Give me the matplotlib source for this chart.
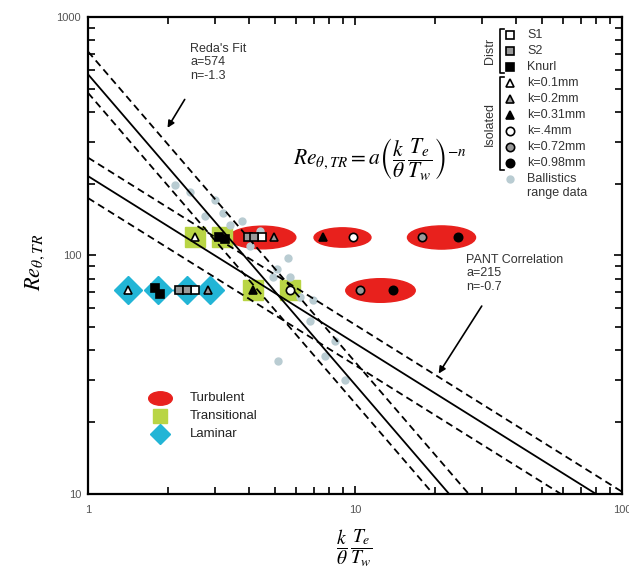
import numpy as np
import matplotlib.pyplot as plt
from matplotlib.path import Path
from matplotlib.transforms import Affine2D
from matplotlib.ticker import NullFormatter

plt.rcParams['font.family'] = ['Liberation Sans', 'DejaVu Sans']
plt.rcParams['mathtext.fontset'] = 'stix'

# correlations  Re = a * x**n  (solid fit, dashed band)
reda_a, reda_n, reda_band = 574, -1.3, [715, 480]
pant_a, pant_n, pant_band = 215, -0.7, [257, 174]

# regime backgrounds
turb_x = [4.5, 8.9, 21.0, 12.4]
turb_y = [120, 120, 120, 72]
turb_w = [48, 41, 49, 50]
trans_x = [2.52, 3.18, 4.15, 5.7]
trans_y = [120, 120, 72, 72]
lam_x = [1.41, 1.83, 2.35, 2.87]
lam_y = [72, 72, 72, 72]

# roughness samples
sample_names = ['S1', 'S2', 'Knurl', 'k=0.1mm', 'k=0.2mm', 'k=0.31mm',
                'k=.4mm', 'k=0.72mm', 'k=0.98mm']
sample_marker = ['s', 's', 's', '^', '^', '^', 'o', 'o', 'o']
sample_face = ['white', '#9a9a9a', 'black'] * 3
sample_x = [[4.48, 2.52], [3.97, 4.2, 2.19, 2.35], [3.1, 3.25, 1.78, 1.86],
            [2.52, 1.41], [4.95, 2.81], [7.6, 4.15], [9.8, 5.7],
            [17.8, 10.4], [24.3, 13.9]]
sample_y = [[120, 72], [120, 120, 72, 72], [120, 117, 73, 69],
            [120, 72], [120, 72], [120, 72], [120, 72],
            [120, 72], [120, 72]]

# ballistics range data
ball_x = [2.12, 2.41, 2.99, 3.2, 3.77, 3.4, 5.61, 5.1, 5.71, 6.96, 6.22,
          4.93, 5.15, 6.78, 8.42, 9.18, 7.7, 4.04, 4.4, 2.74]
ball_y = [197, 184, 170, 150, 140, 134, 98, 88, 81, 65, 67,
          81, 36, 53, 44, 30, 38, 110, 127, 147]

red, green, cyan, ballc = '#e8211d', '#b9d545', '#22b5d6', '#b9ccd2'
txtc = '#333333'

ellipse = Path.unit_circle().transformed(Affine2D().scale(1, 0.34))
key_ellipse = Path.unit_circle().transformed(Affine2D().scale(1, 0.57))

fig = plt.figure(figsize=(6.29, 5.8), dpi=100)
ax = fig.add_axes([0.140, 0.148, 0.849, 0.823])
ax.set_xscale('log')
ax.set_yscale('log')

for x, y, w in zip(turb_x, turb_y, turb_w):
    ax.plot(x, y, marker=ellipse, ms=w, color=red, mec=red, zorder=1)
ax.plot(trans_x, trans_y, 's', ms=14, color=green, mec=green, zorder=1)
ax.plot(lam_x, lam_y, 'D', ms=14, color=cyan, mec=cyan, zorder=1)
ax.plot(ball_x, ball_y, 'o', ms=5, color=ballc, mec=ballc, zorder=1)

xx = np.logspace(0, 2, 200)
for a, n, band in [(reda_a, reda_n, reda_band), (pant_a, pant_n, pant_band)]:
    ax.plot(xx, a * xx**n, color='black', lw=1.3, zorder=2)
    for b in band:
        ax.plot(xx, b * xx**n, color='black', lw=1.3, dashes=(4, 2.5), zorder=2)

for m, f, xs, ys in zip(sample_marker, sample_face, sample_x, sample_y):
    ax.plot(xs, ys, m, ms=6, mfc=f, mec='black', mew=1.2, zorder=3)

ax.set_xlim(1, 100)
ax.set_ylim(10, 1000)
ax.set_xticks([1, 10, 100])
ax.set_xticklabels(['1', '10', '100'])
ax.set_yticks([10, 100, 1000])
ax.set_yticklabels(['10', '100', '1000'])
ax.xaxis.set_minor_formatter(NullFormatter())
ax.yaxis.set_minor_formatter(NullFormatter())
ax.tick_params(which='both', direction='in', top=True, right=True,
               width=1.2, labelsize=8, labelcolor='#555555')
ax.tick_params(which='major', length=6)
ax.tick_params(which='minor', length=5)
ax.tick_params(axis='x', pad=8)
ax.tick_params(axis='y', pad=5)
for s in ax.spines.values():
    s.set_linewidth(1.6)

# annotations
ax.text(0.191, 0.945, "Reda's Fit\na=574\nn=-1.3", transform=ax.transAxes,
        va='top', fontsize=9, color=txtc, linespacing=1.15)
ax.annotate('', xy=(1.96, 335), xytext=(2.33, 461),
            arrowprops=dict(arrowstyle='-|>', color='black', lw=1.2,
                            mutation_scale=10))
ax.text(0.708, 0.503, "PANT Correlation\na=215\nn=-0.7", transform=ax.transAxes,
        va='top', fontsize=9, color=txtc, linespacing=1.15)
ax.annotate('', xy=(20.3, 31.3), xytext=(30.2, 62.8),
            arrowprops=dict(arrowstyle='-|>', color='black', lw=1.2,
                            mutation_scale=10))
ax.text(0.547, 0.70,
        r'$Re_{\theta,TR} = a\left(\dfrac{k}{\theta}\,\dfrac{T_e}{T_w}\right)^{-n}$',
        transform=ax.transAxes, ha='center', va='center', fontsize=15.5)

# top-right key
ky0, kdy = 0.962, 0.0335
for i, (name, m, f) in enumerate(zip(sample_names, sample_marker, sample_face)):
    y = ky0 - i * kdy
    ax.plot(0.790, y, m, ms=6, mfc=f, mec='black', mew=1.2,
            transform=ax.transAxes, clip_on=False)
    ax.text(0.822, y, name, transform=ax.transAxes, va='center',
            fontsize=9, color=txtc)
yb = ky0 - 9 * kdy
ax.plot(0.790, yb, 'o', ms=5, color=ballc, mec=ballc, transform=ax.transAxes)
ax.text(0.822, yb + 0.013, 'Ballistics\nrange data', transform=ax.transAxes,
        va='top', fontsize=9, color=txtc, linespacing=1.25)
for top, bot, lab in [(0.975, 0.882, 'Distr'), (0.873, 0.680, 'Isolated')]:
    ax.plot([0.778, 0.771, 0.771, 0.778], [top, top, bot, bot], color='black',
            lw=1.2, transform=ax.transAxes)
    ax.text(0.752, (top + bot) / 2, lab, transform=ax.transAxes, rotation=90,
            ha='center', va='center', fontsize=9, color=txtc)

# bottom-left key
for i, (lab, mk, c, ms) in enumerate([('Turbulent', key_ellipse, red, 17),
                                      ('Transitional', 's', green, 10),
                                      ('Laminar', 'D', cyan, 10)]):
    y = 0.201 - i * 0.037
    ax.plot(0.135, y, marker=mk, ms=ms, color=c, mec=c, transform=ax.transAxes)
    ax.text(0.191, y, lab, transform=ax.transAxes, va='center',
            fontsize=9.5, color='#222222')

fig.text(0.056, 0.548, r'$Re_{\theta,TR}$', rotation=90, ha='center',
         va='center', fontsize=16)
fig.text(0.564, 0.055, r'$\dfrac{k}{\theta}\,\dfrac{T_e}{T_w}$', ha='center',
         va='center', fontsize=14)

fig.savefig('out.png', dpi=100)
